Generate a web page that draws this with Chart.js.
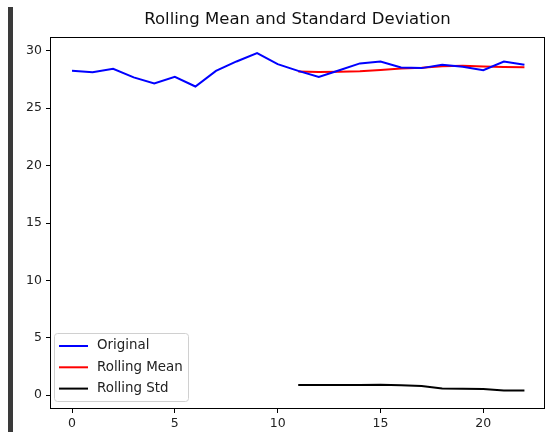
<!DOCTYPE html>
<html lang="en">
<head>
    <meta charset="UTF-8">
    <title>Rolling Mean and Standard Deviation</title>
    <script src="https://cdn.jsdelivr.net/npm/chart.js"></script>
    <style>
        body { margin: 0; background: #fff; }
        #wrap { position: relative; width: 548px; height: 432px; }
        #bar { position: absolute; left: 8px; top: 7px; width: 5px; height: 425px; background: #3a3a3a; }
    </style>
</head>
<body>
    <div id="wrap">
        <div id="bar"></div>
        <canvas id="myChart" width="548" height="432"></canvas>
    </div>

    <script>
        // valores
        const xIndex = [0, 1, 2, 3, 4, 5, 6, 7, 8, 9, 10, 11, 12, 13, 14, 15, 16, 17, 18, 19, 20, 21, 22];
        const original = [28.25, 28.14, 28.43, 27.68, 27.15, 27.73, 26.89, 28.25, 29.07, 29.8, 28.84, 28.25,
                          27.73, 28.31, 28.9, 29.07, 28.55, 28.49, 28.78, 28.6, 28.31, 29.07, 28.78];
        const rollingMean = [null, null, null, null, null, null, null, null, null, null, null, 28.2,
                             28.16, 28.18, 28.22, 28.33, 28.45, 28.52, 28.66, 28.7, 28.64, 28.59, 28.57];
        const rollingStd = [null, null, null, null, null, null, null, null, null, null, null, 0.88,
                            0.88, 0.89, 0.9, 0.91, 0.86, 0.8, 0.59, 0.57, 0.54, 0.42, 0.42];
        const xTicks = [0, 5, 10, 15, 20];
        const yTicks = [0, 5, 10, 15, 20, 25, 30];
        const title = 'Rolling Mean and Standard Deviation';

        const font = 'DejaVu Sans';

        function toPoints(values) {
            return xIndex.map((x, i) => ({ x: x, y: values[i] }));
        }

        // marco, titulo y leyenda dentro del grafico (como matplotlib)
        const boxPlugin = {
            id: 'boxPlugin',
            afterDraw(chart) {
                const ctx = chart.ctx;
                const a = chart.chartArea;
                ctx.save();
                ctx.strokeStyle = '#000';
                ctx.lineWidth = 1;
                ctx.strokeRect(Math.round(a.left) + 0.5, Math.round(a.top) + 0.5,
                               Math.round(a.right - a.left) - 1, Math.round(a.bottom - a.top) - 1);

                // titulo centrado sobre los ejes
                ctx.fillStyle = '#111';
                ctx.font = '16.5px ' + font;
                ctx.textAlign = 'center';
                ctx.textBaseline = 'middle';
                ctx.fillText(title, (a.left + a.right) / 2, 20);

                // leyenda
                const lx = 54, ly = 333, lw = 134, lh = 68;
                ctx.fillStyle = 'rgba(255,255,255,0.8)';
                ctx.strokeStyle = '#d0d0d0';
                ctx.beginPath();
                ctx.roundRect(lx + 0.5, ly + 0.5, lw, lh, 3);
                ctx.fill();
                ctx.stroke();
                ctx.font = '13.4px ' + font;
                ctx.textAlign = 'left';
                chart.data.datasets.forEach((ds, i) => {
                    const y = 346 + i * 21.3;
                    ctx.strokeStyle = ds.borderColor;
                    ctx.lineWidth = 2;
                    ctx.beginPath();
                    ctx.moveTo(59, y);
                    ctx.lineTo(88, y);
                    ctx.stroke();
                    ctx.fillStyle = '#222';
                    ctx.fillText(ds.label, 97, y);
                });
                ctx.restore();
            }
        };

        const ctx = document.getElementById('myChart').getContext('2d');
        new Chart(ctx, {
            type: 'line',
            data: {
                datasets: [
                    { label: 'Original', data: toPoints(original), borderColor: '#0000ff' },
                    { label: 'Rolling Mean', data: toPoints(rollingMean), borderColor: '#ff0000' },
                    { label: 'Rolling Std', data: toPoints(rollingStd), borderColor: '#000000' }
                ]
            },
            options: {
                responsive: false,
                animation: false,
                spanGaps: false,
                elements: {
                    line: { borderWidth: 2, tension: 0, fill: false },
                    point: { radius: 0 }
                },
                layout: { padding: { left: 0, right: 3, top: 37, bottom: 0 } },
                plugins: {
                    legend: { display: false },
                    tooltip: { enabled: false },
                    title: { display: false }
                },
                scales: {
                    x: {
                        type: 'linear',
                        min: -1.07,
                        max: 23.0,
                        afterBuildTicks: s => { s.ticks = xTicks.map(v => ({ value: v })); },
                        afterFit: s => { s.height = 23; },
                        grid: { drawOnChartArea: false, drawTicks: true, tickLength: 4, color: '#000' },
                        border: { display: false },
                        ticks: { color: '#222', font: { family: font, size: 12.5 }, padding: 3, maxRotation: 0 }
                    },
                    y: {
                        type: 'linear',
                        min: -1.2,
                        max: 31.2,
                        afterBuildTicks: s => { s.ticks = yTicks.map(v => ({ value: v })); },
                        afterFit: s => { s.width = 50; },
                        grid: { drawOnChartArea: false, drawTicks: true, tickLength: 4, color: '#000' },
                        border: { display: false },
                        ticks: { color: '#222', font: { family: font, size: 12.5 }, padding: 4 }
                    }
                }
            },
            plugins: [boxPlugin]
        });
    </script>
</body>
</html>
